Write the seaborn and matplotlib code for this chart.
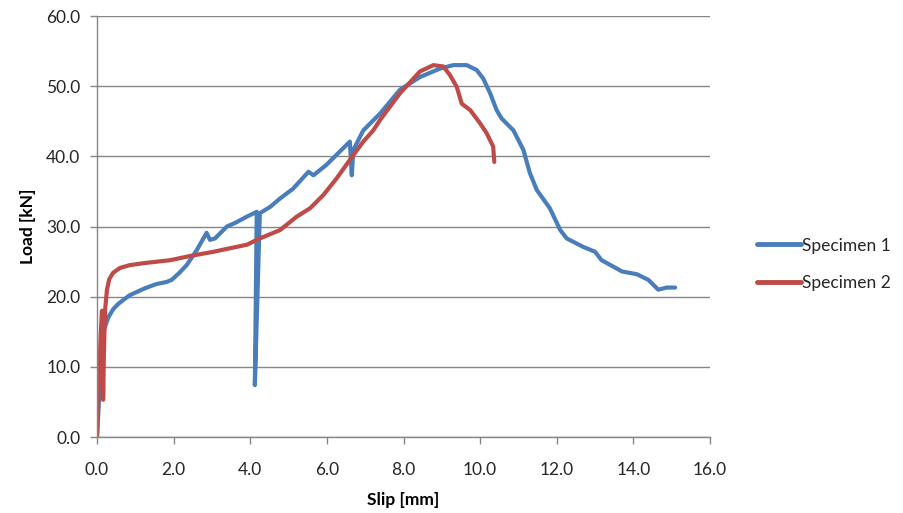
import matplotlib
matplotlib.use("Agg")
import matplotlib.pyplot as plt
import seaborn as sns
import pandas as pd
from matplotlib.ticker import FormatStrFormatter

# ---- data ----
s1_slip = [0.0, 0.08, 0.16, 0.30, 0.42, 0.56, 0.85, 1.25, 1.55, 1.82, 1.95, 2.15, 2.34, 2.60,
           2.86, 2.95, 3.08, 3.39, 3.60, 3.91, 4.17, 4.12, 4.25, 4.52, 4.78, 5.12, 5.52, 5.65,
           5.99, 6.34, 6.60, 6.65, 6.69, 6.95, 7.39, 7.91, 8.43, 8.95, 9.30, 9.65, 9.91, 10.08,
           10.26, 10.43, 10.56, 10.87, 11.13, 11.30, 11.48, 11.82, 12.09, 12.26, 12.69, 13.00,
           13.17, 13.57, 13.70, 14.09, 14.39, 14.65, 14.87, 15.09]
s1_load = [0.0, 8.0, 15.0, 17.1, 18.2, 19.0, 20.2, 21.2, 21.8, 22.1, 22.4, 23.4, 24.5, 26.6,
           29.1, 28.1, 28.3, 30.0, 30.5, 31.4, 32.1, 7.4, 31.9, 32.8, 34.0, 35.4, 37.8, 37.3,
           38.8, 40.7, 42.1, 37.3, 40.9, 43.7, 46.1, 49.5, 51.3, 52.5, 53.0, 53.0, 52.3, 51.1,
           49.0, 46.6, 45.4, 43.7, 40.9, 37.6, 35.2, 32.6, 29.5, 28.3, 27.1, 26.4,
           25.2, 24.0, 23.6, 23.2, 22.4, 21.0, 21.3, 21.3]

s2_slip = [0.0, 0.05, 0.10, 0.13, 0.15, 0.16, 0.18, 0.21, 0.26, 0.32, 0.42, 0.60, 0.86, 1.25,
           1.91, 2.43, 3.04, 3.47, 3.91, 4.25, 4.78, 5.21, 5.56, 5.91, 6.26, 6.60, 6.95, 7.21,
           7.39, 7.91, 8.43, 8.78, 9.04, 9.21, 9.39, 9.52, 9.74, 10.00, 10.17, 10.34, 10.37]
s2_load = [0.0, 8.0, 15.0, 18.0, 12.0, 5.3, 12.0, 18.0, 21.0, 22.5, 23.4, 24.1, 24.5, 24.8,
           25.2, 25.8, 26.4, 26.9, 27.4, 28.3, 29.5, 31.4, 32.6, 34.5, 36.9, 39.5, 42.1, 43.7,
           45.2, 49.0, 52.1, 53.0, 52.8, 51.6, 49.9, 47.5, 46.6, 44.7, 43.3, 41.4, 39.2]

series_names = ["Specimen 1", "Specimen 2"]
colors = ["#4A7EBB", "#BE4B48"]
x_ticks = [0, 2, 4, 6, 8, 10, 12, 14, 16]
y_ticks = [0, 10, 20, 30, 40, 50, 60]

df = pd.concat([
    pd.DataFrame({"Slip": s1_slip, "Load": s1_load, "Series": series_names[0]}),
    pd.DataFrame({"Slip": s2_slip, "Load": s2_load, "Series": series_names[1]}),
], ignore_index=True)

sns.set_style("white")
plt.rcParams["font.family"] = ["Lato", "DejaVu Sans"]

fig, ax = plt.subplots(figsize=(9.04, 5.13), dpi=100)
fig.subplots_adjust(left=0.1073, right=0.7854, top=0.9688, bottom=0.1481)

sns.lineplot(data=df, x="Slip", y="Load", hue="Series", palette=colors,
             sort=False, estimator=None, units="Series", linewidth=3,
             ax=ax, legend=True)
for ln in ax.get_lines():
    ln.set_solid_joinstyle("round")
    ln.set_solid_capstyle("round")

ax.set_xlim(0, 16)
ax.set_ylim(0, 60)
ax.set_xticks(x_ticks)
ax.set_yticks(y_ticks)
ax.xaxis.set_major_formatter(FormatStrFormatter("%.1f"))
ax.yaxis.set_major_formatter(FormatStrFormatter("%.1f"))
ax.yaxis.grid(True, color="#868686", linewidth=1)
ax.xaxis.grid(False)
ax.set_axisbelow(True)

for side in ["top", "right"]:
    ax.spines[side].set_visible(False)
for side in ["left", "bottom"]:
    ax.spines[side].set_color("#868686")
    ax.spines[side].set_linewidth(1)

ax.tick_params(axis="both", which="major", direction="out", length=5, width=1,
               color="#868686", labelsize=12.5, labelcolor="#262626",
               bottom=True, left=True)
ax.tick_params(axis="x", pad=13)
ax.tick_params(axis="y", pad=7)

ax.set_xlabel("Slip [mm]", fontsize=12.5, fontweight="bold", color="#000000", labelpad=10)
ax.set_ylabel("Load [kN]", fontsize=12.5, fontweight="bold", color="#000000", labelpad=7)

leg = ax.legend(loc="center left", bbox_to_anchor=(1.077, 0.41), frameon=False,
                fontsize=12.5, handlelength=2.5, handletextpad=0.1, labelspacing=1.25,
                borderaxespad=0, borderpad=0)
for line in leg.get_lines():
    line.set_linewidth(3.5)
leg.set_title(None)

fig.savefig("out.png", dpi=100)
